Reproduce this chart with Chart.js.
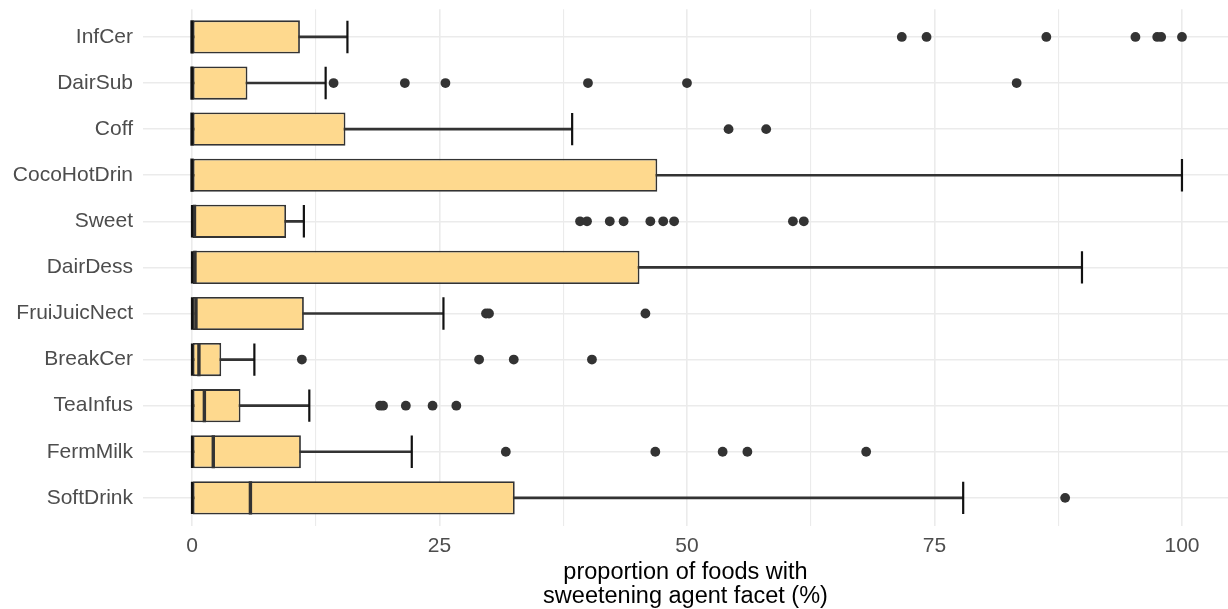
<!DOCTYPE html>
<html>
<head>
<meta charset="utf-8">
<script src="https://cdn.jsdelivr.net/npm/chart.js@4.4.1/dist/chart.umd.min.js"></script>
<style>
  html, body { margin: 0; padding: 0; background: #ffffff; }
  #wrap { width: 1228px; height: 609px; }
</style>
</head>
<body>
<div id="wrap"><canvas id="chart" width="1228" height="609"></canvas></div>
<script>
// Food categories, top to bottom
const categories = ['InfCer', 'DairSub', 'Coff', 'CocoHotDrin', 'Sweet', 'DairDess',
                    'FruiJuicNect', 'BreakCer', 'TeaInfus', 'FermMilk', 'SoftDrink'];

// Five-number summaries (% of foods with a sweetening agent facet)
const lowerWhisker = [0, 0, 0, 0, 0, 0, 0, 0, 0, 0, 0];
const q1           = [0, 0, 0, 0, 0, 0, 0, 0, 0, 0, 0];
const median       = [0, 0, 0, 0, 0.25, 0.3, 0.4, 0.7, 1.25, 2.15, 5.9];
const q3           = [10.9, 5.6, 15.5, 47.0, 9.5, 45.2, 11.3, 2.95, 4.9, 11.0, 32.6];
const upperWhisker = [15.7, 13.5, 38.4, 100, 11.3, 89.9, 25.4, 6.3, 11.85, 22.2, 77.9];

// Outlying values per category
const outliers = [
  [71.7, 74.2, 86.3, 95.3, 97.5, 97.9, 100],
  [14.3, 21.5, 25.6, 40.0, 50.0, 83.3],
  [54.2, 58.0],
  [],
  [39.2, 39.9, 42.2, 43.6, 46.3, 47.6, 48.7, 60.7, 61.8],
  [],
  [29.7, 30.0, 45.8],
  [11.1, 29.0, 32.5, 40.4],
  [19.0, 19.3, 21.6, 24.3, 26.7],
  [31.7, 46.8, 53.6, 56.1, 68.1],
  [88.2]
];

// x-axis ticks: labelled majors and unlabelled minors
const majorTicks = [0, 25, 50, 75, 100];
const minorTicks = [12.5, 37.5, 62.5, 87.5];

const DARK = '#333333';
const FILL = '#FED98E';
const GRID = '#EBEBEB';
const FONT = '"Liberation Sans", Arial, Helvetica, sans-serif';

const boxData = categories.map((c, i) => ({ x: [q1[i], q3[i]], y: i }));
const whiskerData = categories.map((c, i) => ({ x: [lowerWhisker[i], upperWhisker[i]], y: i }));
const medianData = categories.map((c, i) => ({ x: median[i], y: i }));
const capData = [];
categories.forEach((c, i) => {
  capData.push({ x: lowerWhisker[i], y: i });
  capData.push({ x: upperWhisker[i], y: i });
});
const outlierData = [];
outliers.forEach((vals, i) => vals.forEach(v => outlierData.push({ x: v, y: i })));

const allTicks = majorTicks.concat(minorTicks).sort((a, b) => a - b);

new Chart(document.getElementById('chart'), {
  type: 'bar',
  data: {
    datasets: [
      {
        type: 'bar', indexAxis: 'y', grouped: false, order: 5,
        data: whiskerData, backgroundColor: DARK, borderWidth: 0, barThickness: 2
      },
      {
        type: 'bar', indexAxis: 'y', grouped: false, order: 4,
        data: boxData, backgroundColor: FILL, borderColor: DARK, borderWidth: 1.8,
        borderSkipped: false, categoryPercentage: 0.8, barPercentage: 0.9
      },
      {
        type: 'scatter', order: 3, data: medianData,
        pointStyle: 'line', rotation: 90, radius: 16.6, hoverRadius: 16.6,
        borderColor: DARK, borderWidth: 3.4, showLine: false
      },
      {
        type: 'scatter', order: 2, data: capData,
        pointStyle: 'line', rotation: 90, radius: 16.2, hoverRadius: 16.2,
        borderColor: '#111111', borderWidth: 2.2, showLine: false
      },
      {
        type: 'scatter', order: 1, data: outlierData,
        pointStyle: 'circle', radius: 4.9, hoverRadius: 4.9,
        backgroundColor: DARK, borderColor: DARK, borderWidth: 0, showLine: false
      }
    ]
  },
  options: {
    responsive: false,
    animation: false,
    events: [],
    layout: { autoPadding: false, padding: { top: 9.3, right: 0, bottom: 0, left: 0 } },
    plugins: { legend: { display: false }, tooltip: { enabled: false } },
    scales: {
      x: {
        type: 'linear',
        position: 'bottom',
        offset: false,
        min: -4.95,
        max: 104.65,
        afterBuildTicks: (scale) => { scale.ticks = allTicks.map(v => ({ value: v })); },
        afterFit: (scale) => {
          scale.height = 83.5;
          scale.paddingLeft = 0;
          scale.paddingRight = 0;
        },
        border: { display: false },
        grid: {
          offset: false,
          color: GRID,
          lineWidth: (ctx) => (majorTicks.includes(ctx.tick && ctx.tick.value) ? 1.6 : 1.1),
          drawTicks: false
        },
        ticks: {
          autoSkip: false,
          maxRotation: 0,
          padding: 8,
          color: '#4D4D4D',
          font: { family: FONT, size: 21 },
          callback: (v) => (majorTicks.includes(v) ? String(v) : '')
        },
        title: {
          display: true,
          text: ['proportion of foods with', 'sweetening agent facet (%)'],
          color: '#000000',
          font: { family: FONT, size: 23.5, lineHeight: 1.04 },
          padding: { top: 0, bottom: 0 }
        }
      },
      y: {
        type: 'linear',
        reverse: true,
        offset: false,
        min: -0.6,
        max: categories.length - 0.4,
        afterBuildTicks: (scale) => { scale.ticks = categories.map((c, i) => ({ value: i })); },
        afterFit: (scale) => {
          scale.width = 143;
          scale.paddingTop = 0;
          scale.paddingBottom = 0;
        },
        border: { display: false },
        grid: { offset: false, color: GRID, lineWidth: 1.6, drawTicks: false },
        ticks: {
          autoSkip: false,
          padding: 10,
          color: '#4D4D4D',
          font: { family: FONT, size: 21 },
          callback: (v) => categories[v]
        }
      }
    }
  }
});
</script>
</body>
</html>
